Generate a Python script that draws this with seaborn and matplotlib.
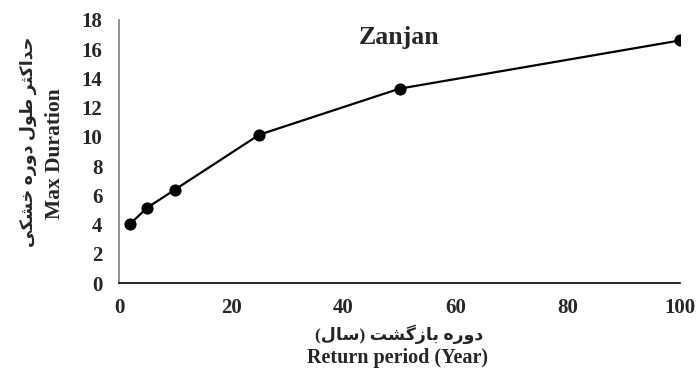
import matplotlib
matplotlib.use("Agg")
import matplotlib.pyplot as plt
import seaborn as sns
import pandas as pd

# data
return_period = [2, 5, 10, 25, 50, 100]
max_duration = [4.05, 5.15, 6.4, 10.15, 13.3, 16.6]
x_ticks = [0, 20, 40, 60, 80, 100]
y_ticks = [0, 2, 4, 6, 8, 10, 12, 14, 16, 18]
station = "Zanjan"
ylabel_fa = "حداکثر طول دوره خشکی"
ylabel_en = "Max Duration"
xlabel_fa = "دوره بازگشت (سال)"
xlabel_en = "Return period (Year)"

# minimal Persian shaping (matplotlib has no bidi/shaping)
FORMS = {
    'ا': ('\uFE8D', '\uFE8E', None, None),
    'ب': ('\uFE8F', '\uFE90', '\uFE91', '\uFE92'),
    'ت': ('\uFE95', '\uFE96', '\uFE97', '\uFE98'),
    'ث': ('\uFE99', '\uFE9A', '\uFE9B', '\uFE9C'),
    'ح': ('\uFEA1', '\uFEA2', '\uFEA3', '\uFEA4'),
    'خ': ('\uFEA5', '\uFEA6', '\uFEA7', '\uFEA8'),
    'د': ('\uFEA9', '\uFEAA', None, None),
    'ر': ('\uFEAD', '\uFEAE', None, None),
    'ز': ('\uFEAF', '\uFEB0', None, None),
    'س': ('\uFEB1', '\uFEB2', '\uFEB3', '\uFEB4'),
    'ش': ('\uFEB5', '\uFEB6', '\uFEB7', '\uFEB8'),
    'ط': ('\uFEC1', '\uFEC2', '\uFEC3', '\uFEC4'),
    'ل': ('\uFEDD', '\uFEDE', '\uFEDF', '\uFEE0'),
    'ه': ('\uFEE9', '\uFEEA', '\uFEEB', '\uFEEC'),
    'و': ('\uFEED', '\uFEEE', None, None),
    'ک': ('\uFB8E', '\uFB8F', '\uFB90', '\uFB91'),
    'گ': ('\uFB92', '\uFB93', '\uFB94', '\uFB95'),
    'ی': ('\uFBFC', '\uFBFD', '\uFBFE', '\uFBFF'),
}


def shape(text):
    out = []
    for i, ch in enumerate(text):
        if ch not in FORMS:
            out.append(ch)
            continue
        prev = text[i - 1] if i > 0 else ''
        nxt = text[i + 1] if i + 1 < len(text) else ''
        join_prev = prev in FORMS and FORMS[prev][2] is not None
        join_next = FORMS[ch][2] is not None and nxt in FORMS
        iso, fin, ini, med = FORMS[ch]
        if join_prev and join_next:
            out.append(med)
        elif join_prev:
            out.append(fin)
        elif join_next:
            out.append(ini)
        else:
            out.append(iso)
    vis = ''.join(reversed(out))
    return vis.translate(str.maketrans('()', ')('))


df = pd.DataFrame({"period": return_period, "duration": max_duration})

sns.set_style("white")
fams = ['Liberation Serif', 'DejaVu Sans']
plt.rcParams['font.family'] = fams
plt.rcParams['font.weight'] = 'bold'

fig = plt.figure(figsize=(6.96, 3.70), dpi=100)
ax = fig.add_axes([0.171, 0.235, 0.806, 0.711])

sns.lineplot(data=df, x="period", y="duration", ax=ax, color="black",
             linewidth=1.6, marker="o", markersize=8, markeredgecolor="black")

ax.set_xlim(0, 100)
ax.set_ylim(0, 18)
ax.set_xticks(x_ticks)
ax.set_yticks(y_ticks)
ax.tick_params(axis='x', direction='in', length=6, pad=11, labelsize=15, color='black')
ax.tick_params(axis='y', direction='out', length=7, pad=5, labelsize=15, color='black')
for lab in ax.get_xticklabels() + ax.get_yticklabels():
    lab.set_fontweight('bold')

sns.despine(ax=ax)
ax.spines['left'].set_color('#7f7f7f')
ax.spines['left'].set_linewidth(1.2)
ax.spines['bottom'].set_color('black')
ax.spines['bottom'].set_linewidth(1.2)
ax.set_xlabel("")
ax.set_ylabel("")

# axis titles: Persian line + English line
fig.text(0.573, 0.097, shape(xlabel_fa), ha='center', va='center', fontsize=12.5,
         fontweight='bold', family=fams)
fig.text(0.571, 0.032, xlabel_en, ha='center', va='center', fontsize=14.5,
         fontweight='bold', family=fams)
fig.text(0.041, 0.616, shape(ylabel_fa), ha='center', va='center', fontsize=12.5,
         fontweight='bold', family=fams, rotation=90)
fig.text(0.079, 0.586, ylabel_en, ha='center', va='center', fontsize=15.5,
         fontweight='bold', family=fams, rotation=90)

ax.text(50, 16.8, station, ha='center', va='center', fontsize=18.5, fontweight='bold',
        family=fams)

fig.savefig("out.png", dpi=100)
